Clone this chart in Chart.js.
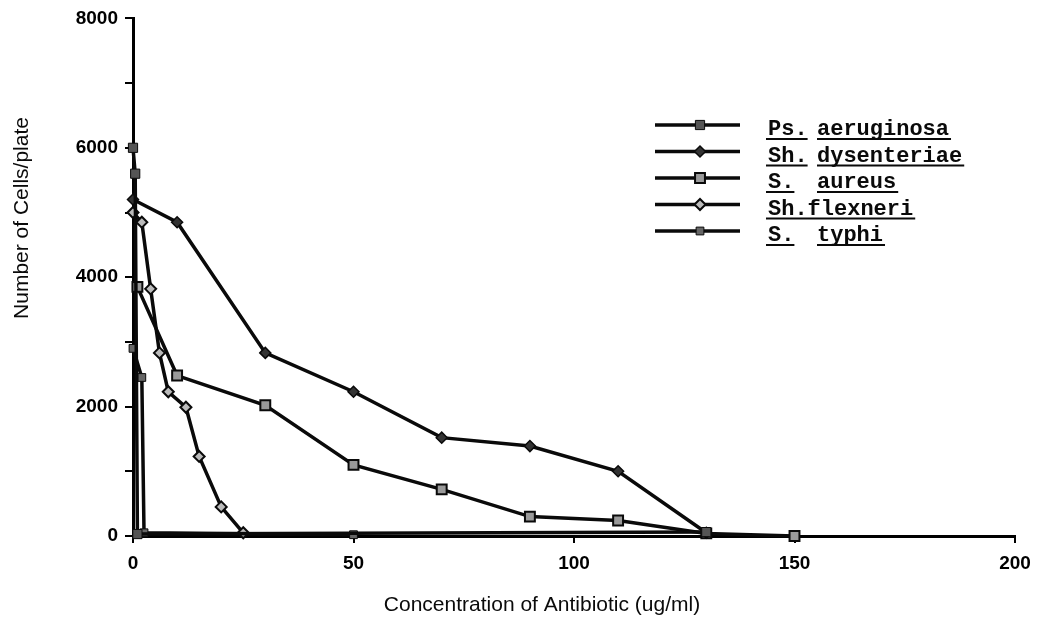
<!DOCTYPE html>
<html><head><meta charset="utf-8">
<script src="https://cdn.jsdelivr.net/npm/chart.js@4/dist/chart.umd.min.js"></script>
<style>html,body{margin:0;padding:0;background:#fff}#wrap{width:1040px;height:620px;position:relative}</style>
</head><body><div id="wrap"><canvas id="c"></canvas></div>
<script>
// ---- data ----
const legendPrefix  = ['Ps.', 'Sh.', 'S.', 'Sh.', 'S.'];
const legendSpecies = ['aeruginosa', 'dysenteriae', 'aureus', 'flexneri', 'typhi'];
const legendJoined  = [false, false, false, true, false];

const psAeruginosaX = [0, 0.5, 1, 130];
const psAeruginosaY = [6000, 5600, 30, 60];

const shDysenteriaeX = [0, 10, 30, 50, 70, 90, 110, 130];
const shDysenteriaeY = [5200, 4850, 2830, 2230, 1520, 1390, 1000, 50];

const sAureusX = [1, 10, 30, 50, 70, 90, 110, 130, 150];
const sAureusY = [3850, 2480, 2020, 1100, 720, 300, 240, 40, 0];

const shFlexneriX = [0, 2, 4, 6, 8, 12, 15, 20, 25];
const shFlexneriY = [5000, 4850, 3820, 2830, 2230, 1990, 1230, 450, 50];

const sTyphiX = [0, 2, 2.5, 50];
const sTyphiY = [2900, 2450, 50, 20];

const xTickValues = [0, 50, 100, 150, 200];
const yLabelledTicks = [0, 2000, 4000, 6000, 8000];
const xTitle = 'Concentration of Antibiotic (ug/ml)';
const yTitle = 'Number of Cells/plate';

// ---- build ----
const pts = (xs, ys) => xs.map((x, i) => ({x, y: ys[i]}));
const INK = '#0a0a0a';
function ds(label, xs, ys, style, radius, fill, bw) {
  return {
    label, data: pts(xs, ys), showLine: true, tension: 0, clip: false,
    borderColor: INK, borderWidth: 3.5,
    pointStyle: style, pointRadius: radius, pointHoverRadius: radius,
    pointBackgroundColor: fill, pointBorderColor: INK, pointBorderWidth: bw
  };
}
const datasets = [
  ds(legendPrefix[0] + ' ' + legendSpecies[0], psAeruginosaX, psAeruginosaY, 'rect', 6.5, '#555', 1),
  ds(legendPrefix[1] + ' ' + legendSpecies[1], shDysenteriaeX, shDysenteriaeY, 'rectRot', 5.5, '#333', 1.5),
  ds(legendPrefix[2] + ' ' + legendSpecies[2], sAureusX, sAureusY, 'rect', 7, '#9a9a9a', 2),
  ds(legendPrefix[3] + legendSpecies[3], shFlexneriX, shFlexneriY, 'rectRot', 5.5, '#bbb', 2),
  ds(legendPrefix[4] + ' ' + legendSpecies[4], sTyphiX, sTyphiY, 'rect', 5.5, '#666', 1)
];

const LEG = {x0: 655, x1: 740, xm: 700, y0: 125, gap: 26.5, tx: 768, sx: 817};

const decorPlugin = {
  id: 'decor',
  afterDraw(chart) {
    const ctx = chart.ctx;
    ctx.save();
    // axis titles
    ctx.fillStyle = INK;
    ctx.font = '21px "Liberation Sans", Arial, sans-serif';
    ctx.textAlign = 'center'; ctx.textBaseline = 'middle';
    ctx.fillText(xTitle, 542, 605);
    ctx.save();
    ctx.translate(22, 218); ctx.rotate(-Math.PI / 2);
    ctx.fillText(yTitle, 0, 0);
    ctx.restore();
    // legend
    chart.data.datasets.forEach((d, i) => {
      const y = LEG.y0 + i * LEG.gap;
      ctx.strokeStyle = INK; ctx.lineWidth = 3.5;
      ctx.beginPath(); ctx.moveTo(LEG.x0, y); ctx.lineTo(LEG.x1, y); ctx.stroke();
      ctx.fillStyle = d.pointBackgroundColor; ctx.strokeStyle = INK; ctx.lineWidth = d.pointBorderWidth;
      Chart.helpers.drawPoint(ctx, {pointStyle: d.pointStyle, radius: d.pointRadius, borderWidth: d.pointBorderWidth, rotation: 0}, LEG.xm, y);
      ctx.fillStyle = INK;
      ctx.font = 'bold 22px "Liberation Mono", "DejaVu Sans Mono", monospace';
      ctx.textAlign = 'left'; ctx.textBaseline = 'alphabetic';
      const base = y + 10;
      const pre = legendPrefix[i], sp = legendSpecies[i];
      const wp = ctx.measureText(pre).width;
      ctx.fillText(pre, LEG.tx, base);
      const sx = legendJoined[i] ? LEG.tx + wp : LEG.sx;
      ctx.fillText(sp, sx, base);
      const ws = ctx.measureText(sp).width;
      ctx.strokeStyle = INK; ctx.lineWidth = 2;
      ctx.beginPath();
      ctx.moveTo(LEG.tx - 2, base + 4); ctx.lineTo(LEG.tx + wp, base + 4);
      ctx.moveTo(sx, base + 4); ctx.lineTo(sx + ws + 2, base + 4);
      ctx.stroke();
    });
    ctx.restore();
  }
};

new Chart(document.getElementById('c'), {
  type: 'scatter',
  data: {datasets},
  options: {
    responsive: true, maintainAspectRatio: false, animation: false,
    layout: {padding: {left: 0, right: 25, top: 18, bottom: 0}},
    plugins: {legend: {display: false}, tooltip: {enabled: false}},
    scales: {
      x: {
        type: 'linear', min: 0, max: 200,
        afterFit(s) { s.height = 84; },
        afterBuildTicks(s) { s.ticks = xTickValues.map(v => ({value: v})); },
        ticks: {color: '#000', font: {family: 'Liberation Sans', size: 19, weight: 'bold'}, padding: 9, maxRotation: 0, callback: v => String(v)},
        grid: {drawOnChartArea: false, drawTicks: true, tickLength: 7, color: '#000', lineWidth: 2},
        border: {display: true, color: '#000', width: 3},
        title: {display: false}
      },
      y: {
        type: 'linear', min: 0, max: 8000,
        afterFit(s) { s.width = 133; },
        ticks: {stepSize: 1000, color: '#000', font: {family: 'Liberation Sans', size: 19, weight: 'bold'}, padding: 7,
          callback: v => yLabelledTicks.includes(v) ? String(v) : ''},
        grid: {drawOnChartArea: false, drawTicks: true, tickLength: 8, color: '#000', lineWidth: 2},
        border: {display: true, color: '#000', width: 3},
        title: {display: false}
      }
    }
  },
  plugins: [decorPlugin]
});
</script>
</body></html>
